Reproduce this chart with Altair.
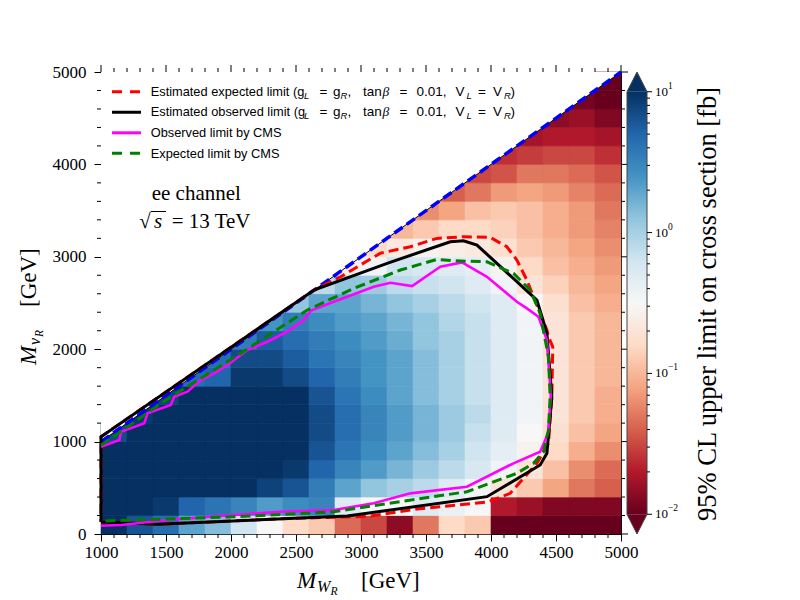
import altair as alt
import numpy as np
import pandas as pd

SERIF = "Liberation Serif"
SANS = "Liberation Sans"

# ---------------------------------------------------------------------------
# Limit map: bin centres (GeV) and log10 of the 95% CL limit [fb]
# ---------------------------------------------------------------------------
MW_BINS = [1100, 1300, 1500, 1700, 1900, 2100, 2300, 2500, 2700, 2900,
           3100, 3300, 3500, 3700, 3900, 4100, 4300, 4500, 4700, 4900]
MN_BINS = [100, 300, 500, 700, 900, 1100, 1300, 1500, 1700, 1900,
           2100, 2300, 2500, 2700, 2900, 3100, 3300, 3500, 3700, 3900,
           4100, 4300, 4500, 4700, 4900]
HALF_BIN = 100

_ = None  # bin lies entirely in the forbidden region M_nu > M_W
LOG10_LIMIT = [
    [1.0, 0.8, 0.65, 0.3, 0.15, -0.2, -0.5, -0.8, -0.9, -1.35, -1.5, -1.85, -1.3, -0.8, -0.9, -2.0, -2.0, -2.0, -2.0, -2.0],
    [1.0, 1.0, 0.95, 0.7, 0.6, 0.5, 0.35, 0.45, 0.5, -0.3, -0.5, -0.5, -0.3, -0.4, -0.5, -1.7, -1.8, -1.9, -1.9, -1.9],
    [1.0, 1.0, 1.0, 1.0, 1.0, 1.0, 0.9, 0.8, 0.55, 0.3, 0.1, 0.0, -0.1, -0.3, -0.45, -0.7, -0.9, -1.1, -1.3, -1.4],
    [1.0, 1.0, 1.0, 1.0, 1.0, 1.0, 1.0, 0.95, 0.7, 0.5, 0.35, 0.2, 0.05, -0.1, -0.25, -0.45, -0.7, -0.95, -1.2, -1.35],
    [1.0, 1.0, 1.0, 1.0, 1.0, 1.0, 1.0, 1.0, 0.8, 0.6, 0.45, 0.3, 0.15, 0.0, -0.2, -0.35, -0.55, -0.8, -1.05, -1.2],
    [0.85, 1.0, 1.0, 1.0, 1.0, 1.0, 1.0, 1.0, 0.85, 0.65, 0.5, 0.35, 0.2, 0.05, -0.15, -0.3, -0.5, -0.75, -0.95, -1.1],
    [_, 0.95, 1.0, 1.0, 1.0, 1.0, 1.0, 1.0, 0.85, 0.65, 0.5, 0.35, 0.2, 0.05, -0.1, -0.3, -0.45, -0.7, -0.9, -1.05],
    [_, _, 0.9, 1.0, 1.0, 1.0, 1.0, 1.0, 0.8, 0.6, 0.45, 0.3, 0.15, 0.0, -0.15, -0.3, -0.45, -0.7, -0.9, -1.05],
    [_, _, _, 0.65, 0.7, 0.95, 0.95, 0.85, 0.7, 0.55, 0.4, 0.3, 0.15, 0.0, -0.15, -0.3, -0.45, -0.7, -0.9, -1.0],
    [_, _, _, _, 0.65, 0.85, 0.85, 0.75, 0.6, 0.5, 0.4, 0.3, 0.15, 0.0, -0.15, -0.3, -0.45, -0.7, -0.9, -1.0],
    [_] * 5 + [0.55, 0.75, 0.65, 0.55, 0.45, 0.35, 0.25, 0.1, 0.0, -0.15, -0.3, -0.45, -0.7, -0.9, -1.0],
    [_] * 6 + [0.4, 0.55, 0.45, 0.35, 0.3, 0.2, 0.1, -0.05, -0.15, -0.3, -0.45, -0.7, -0.9, -1.0],
    [_] * 7 + [0.1, 0.3, 0.3, 0.2, 0.1, 0.0, -0.1, -0.2, -0.3, -0.5, -0.75, -0.95, -1.05],
    [_] * 8 + [-0.1, 0.1, 0.05, -0.1, -0.15, -0.2, -0.3, -0.45, -0.7, -0.85, -1.0, -1.1],
    [_] * 9 + [-0.6, -0.45, -0.2, -0.25, -0.3, -0.35, -0.55, -0.8, -0.95, -1.05, -1.15],
    [_] * 10 + [-0.8, -0.65, -0.55, -0.6, -0.65, -0.75, -0.9, -1.0, -1.1, -1.2],
    [_] * 11 + [-1.0, -0.9, -0.8, -0.8, -0.85, -0.95, -1.05, -1.15, -1.25],
    [_] * 12 + [-1.2, -1.1, -0.95, -0.9, -0.95, -1.05, -1.15, -1.3],
    [_] * 13 + [-1.4, -1.3, -1.15, -1.1, -1.15, -1.25, -1.35],
    [_] * 14 + [-1.5, -1.45, -1.3, -1.3, -1.35, -1.45],
    [_] * 15 + [-1.6, -1.55, -1.5, -1.5, -1.6],
    [_] * 16 + [-1.75, -1.7, -1.7, -1.75],
    [_] * 17 + [-1.85, -1.8, -1.9],
    [_] * 18 + [-1.95, -2.0],
    [_] * 19 + [-2.0],
]

# ---------------------------------------------------------------------------
# Exclusion contours (M_WR, M_nuR) in GeV
# ---------------------------------------------------------------------------
EXP_MW = [1000, 1435, 2433, 3047, 3431, 3969, 4148, 4353, 4442, 4468, 4475, 4442,
          4430, 4327, 4276, 4199, 4122, 3994, 3790, 3584, 3380, 3150, 2843, 2638,
          1000, 1000]
EXP_MN = [130, 105, 168, 190, 270, 345, 440, 765, 981, 1486, 2026, 2135,
          2207, 2568, 2748, 2965, 3109, 3210, 3217, 3199, 3109, 3040, 2784, 2640,
          1053, 130]

OBS_MW = [1000, 1435, 2894, 3969, 4378, 4430, 4468, 4430, 4353, 3892, 3789, 3687,
          3201, 2638, 1000, 1000]
OBS_MN = [130, 105, 195, 404, 747, 873, 1486, 2172, 2532, 3127, 3174, 3163,
          2929, 2640, 1053, 130]

CMS_OBS_MW = [1000, 1141, 1154, 1333, 1358, 1537, 1563, 1665, 1768, 1870, 1973,
              2126, 2280, 2433, 2561, 2612, 2791, 3098, 3227, 3393, 3610, 3777,
              3969, 4199, 4276, 4365, 4430, 4460, 4440, 4417, 4378, 4173, 3815,
              3380, 3098, 2791, 2382, 2023, 1512, 1154, 1000]
CMS_OBS_MN = [945, 1017, 1107, 1198, 1306, 1396, 1486, 1540, 1666, 1739, 1829,
              1991, 2081, 2189, 2315, 2415, 2514, 2676, 2719, 2683, 2892, 2939,
              2784, 2513, 2442, 2351, 2100, 1500, 1100, 1017, 891, 765, 512,
              440, 332, 260, 241, 205, 151, 97, 90]

CMS_EXP_MW = [1000, 1500, 2075, 2331, 2587, 2945, 3303, 3585, 3713, 3969, 4173,
              4302, 4378, 4442, 4455, 4442, 4404, 4327, 4199, 3815, 3303, 2791,
              2023, 1256, 1000]
CMS_EXP_MN = [960, 1450, 1955, 2190, 2424, 2658, 2857, 2972, 2957, 2946, 2821,
              2640, 2388, 1918, 1486, 1125, 891, 765, 657, 458, 350, 241,
              187, 151, 140]

DIAG_MW = [1000, 5000]
DIAG_MN = [1000, 5000]

# ---------------------------------------------------------------------------
# Geometry / styling
# ---------------------------------------------------------------------------
OX, OY = 101, 72          # plot-area corner inside the 800x600 canvas
W, H = 520, 462

XS = alt.Scale(domain=[1000, 5000], nice=False, zero=False)
YS = alt.Scale(domain=[0, 5000], nice=False, zero=False)
AX_COMMON = dict(title=None, grid=False, tickSize=7, tickColor="black", tickWidth=1,
                 domainColor="black", labelColor="black", labelFont=SERIF,
                 labelFontSize=17, format="d", labelFlush=False)
XA = alt.Axis(values=list(range(1000, 5001, 500)), labelPadding=3, **AX_COMMON)
YA = alt.Axis(values=list(range(0, 5001, 1000)), labelPadding=8, **AX_COMMON)

# RdBu colour map spread evenly over log10(sigma) in [-2, 1]
RDBU = ["#67001f", "#b2182b", "#d6604d", "#f4a582", "#fddbc7", "#f7f7f7",
        "#d1e5f0", "#92c5de", "#4393c3", "#2166ac", "#053061"]
CMAP_LO, CMAP_HI = -2.0, 1.0
CMAP_STOPS = [CMAP_LO + (CMAP_HI - CMAP_LO) * k / (len(RDBU) - 1) for k in range(len(RDBU))]
CS = alt.Scale(domain=CMAP_STOPS, range=RDBU, interpolate="rgb", clamp=True)

ONE = pd.DataFrame({"k": [0]})


def X(field):
    return alt.X(f"{field}:Q", scale=XS, axis=XA)


def Y(field):
    return alt.Y(f"{field}:Q", scale=YS, axis=YA)


def path(mw, mn):
    return pd.DataFrame({"mw": mw, "mn": mn, "k": list(range(len(mw)))})


def curve(mw, mn, color, width, dash=None):
    kw = dict(color=color, strokeWidth=width)
    if dash:
        kw["strokeDash"] = dash
    return alt.Chart(path(mw, mn)).mark_line(**kw).encode(
        x=X("mw"), y=Y("mn"), order="k:Q")


def label(text, x, y, size, font=SERIF, style="normal", angle=0,
          align="left", baseline="alphabetic"):
    return alt.Chart(ONE).mark_text(
        text=text, font=font, fontSize=size, fontStyle=style, angle=angle,
        align=align, baseline=baseline, color="black",
    ).encode(x=alt.value(x - OX), y=alt.value(y - OY))


def seg(x0, y0, x1, y1, color="black", width=1.0, dash=None):
    kw = dict(color=color, strokeWidth=width)
    if dash:
        kw["strokeDash"] = dash
    return alt.Chart(ONE).mark_rule(**kw).encode(
        x=alt.value(x0 - OX), y=alt.value(y0 - OY),
        x2=alt.value(x1 - OX), y2=alt.value(y1 - OY))


def xticks(vals, y0, y1):
    return alt.Chart(pd.DataFrame({"v": vals})).mark_rule(color="black").encode(
        x=X("v"), y=alt.value(y0), y2=alt.value(y1))


def yticks(vals, x0, x1):
    return alt.Chart(pd.DataFrame({"v": vals})).mark_rule(color="black").encode(
        y=Y("v"), x=alt.value(x0), x2=alt.value(x1))


# ---------------------------------------------------------------------------
# Main panel
# ---------------------------------------------------------------------------
rows = []
for mn, row in zip(MN_BINS, LOG10_LIMIT):
    for mw, v in zip(MW_BINS, row):
        if v is None:
            continue
        rows.append({"x0": mw - HALF_BIN, "x1": mw + HALF_BIN,
                     "y0": mn - HALF_BIN, "y1": mn + HALF_BIN, "logsig": v})
cells = pd.DataFrame(rows)

heat = alt.Chart(cells).mark_rect(strokeWidth=0.6).encode(
    x=X("x0"), x2="x1:Q", y=Y("y0"), y2="y1:Q",
    color=alt.Color("logsig:Q", scale=CS, legend=None),
    stroke=alt.Stroke("logsig:Q", scale=CS, legend=None),
)

# region above the kinematic boundary stays blank
forbidden = alt.Chart(path(DIAG_MW, DIAG_MN)).mark_area(color="white").encode(
    x=X("mw"), y=Y("mn"), y2=alt.datum(5000))

diag_thin = curve(DIAG_MW, DIAG_MN, "black", 1)
diag_blue = curve(DIAG_MW, DIAG_MN, "#0000ff", 3.5, [10, 5])

exp_line = curve(EXP_MW, EXP_MN, "#ff0000", 3, [10, 5])
obs_line = curve(OBS_MW, OBS_MN, "black", 3)
cms_obs = curve(CMS_OBS_MW, CMS_OBS_MN, "#ff00ff", 2.6)
cms_exp = curve(CMS_EXP_MW, CMS_EXP_MN, "#008000", 3, [10, 5])

MAJOR_X = list(range(1000, 5001, 500))
MINOR_X = [v for v in range(1000, 5001, 100) if v % 500]
MAJOR_Y = list(range(0, 5001, 1000))
MINOR_Y = [v for v in range(0, 5001, 200) if v % 1000]

ticks = [
    xticks(MINOR_X, H, H + 4),
    xticks(MAJOR_X, 0, -7),
    xticks(MINOR_X, 0, -4),
    yticks(MINOR_Y, 0, -4),
    yticks(MAJOR_Y, W, W + 7),
    yticks(MINOR_Y, W, W + 4),
]

# legend (inside the plot, top-left)
legend_rows = [
    ("#ff0000", [10, 8]),
    ("black", None),
    ("#ff00ff", None),
    ("#008000", [10, 8]),
]
legend_layers = []
for n, (col, dash) in enumerate(legend_rows):
    ly = 91.7 + 20.55 * n
    legend_layers.append(seg(112, ly, 141, ly, col, 3, dash))

MATH_TAIL = [  # (text, x, kind) kind: n = normal, s = subscript, i = italic
    ("L", 304.0, "s"), ("=", 319.5, "n"), ("g", 333.0, "n"), ("R", 340.5, "s"),
    (",", 347.5, "n"), ("tan", 363.0, "n"), ("β", 382.5, "i"), ("=", 399.5, "n"),
    ("0.01,", 416.5, "n"), ("V", 455.5, "n"), ("L", 466.5, "s"), ("=", 478.0, "n"),
    ("V", 493.0, "n"), ("R", 504.0, "s"), (")", 510.5, "n"),
]
LEG_SIZE = 12.8
for n, head in enumerate(["Estimated expected limit (g", "Estimated observed limit (g"]):
    base = 91.7 + 20.55 * n + 4.2
    legend_layers.append(label(head, 150.7, base, LEG_SIZE, font=SANS))
    for txt, x, kind in MATH_TAIL:
        if kind == "s":
            legend_layers.append(label(txt, x, base + 3, 9.5, font=SANS, style="italic"))
        elif kind == "i":
            legend_layers.append(label(txt, x, base, 13.5, font=SERIF, style="italic"))
        else:
            legend_layers.append(label(txt, x, base, 13.5, font=SANS))
for n, txt in [(2, "Observed limit by CMS"), (3, "Expected limit by CMS")]:
    legend_layers.append(label(txt, 150.7, 91.7 + 20.55 * n + 4.2, LEG_SIZE, font=SANS))

annotations = [
    label("ee channel", 151.7, 200, 21),
    label("√", 139.3, 228.3, 21),
    label("s", 154.0, 228.3, 21, style="italic"),
    seg(151, 211.5, 166, 211.5, "black", 1),
    label("= 13 TeV", 171.7, 228.3, 21),
]

# axis titles with subscripts
axis_titles = [
    label("M", 297, 588, 23, style="italic"),
    label("W", 317, 592, 16, style="italic"),
    label("R", 330.5, 595, 11.5, style="italic"),
    label("[GeV]", 361, 588, 23),
    label("M", 36, 365, 23, style="italic", angle=270),
    label("ν", 40, 345, 16, style="italic", angle=270),
    label("R", 43, 337, 11.5, style="italic", angle=270),
    label("[GeV]", 36, 307, 23, angle=270),
]

main = alt.layer(
    heat, forbidden, diag_thin, diag_blue,
    exp_line, obs_line, cms_obs, cms_exp,
    *ticks, *legend_layers, *annotations, *axis_titles,
)

# ---------------------------------------------------------------------------
# Colour bar (log10 units, with extension triangles)
# ---------------------------------------------------------------------------
CB_LO, CB_HI, CB_EXT = CMAP_LO, CMAP_HI, 0.14
CBY = alt.Scale(domain=[CB_LO - CB_EXT, CB_HI + CB_EXT], nice=False, zero=False)
CB_X0, CB_X1 = 526, 546
CBX = alt.Scale(domain=[0, 1], range=[CB_X0, CB_X1], nice=False, zero=False)

gradient = alt.Gradient(
    gradient="linear",
    stops=[alt.GradientStop(color=c, offset=k / (len(RDBU) - 1)) for k, c in enumerate(RDBU)],
    x1=0, x2=0, y1=1, y2=0,
)
cb_rect = alt.Chart(pd.DataFrame({"lo": [CB_LO], "hi": [CB_HI]})).mark_rect(color=gradient).encode(
    x=alt.value(CB_X0), x2=alt.value(CB_X1),
    y=alt.Y("lo:Q", scale=CBY, axis=None), y2="hi:Q")


def cb_triangle(edge, tip, color):
    df = pd.DataFrame({"u": [0, 0.5, 1], "v": [edge, tip, edge]})
    return alt.Chart(df).mark_area(color=color).encode(
        x=alt.X("u:Q", scale=CBX, axis=None),
        y=alt.Y("v:Q", scale=CBY, axis=None), y2=alt.datum(edge))


cb_top = cb_triangle(CB_HI, CB_HI + CB_EXT, RDBU[-1])
cb_bot = cb_triangle(CB_LO, CB_LO - CB_EXT, RDBU[0])

outline = pd.DataFrame({
    "u": [0, 0.5, 1, 1, 0.5, 0, 0],
    "v": [CB_LO, CB_LO - CB_EXT, CB_LO, CB_HI, CB_HI + CB_EXT, CB_HI, CB_LO],
    "k": list(range(7)),
})
cb_outline = alt.Chart(outline).mark_line(color="#444444", strokeWidth=1).encode(
    x=alt.X("u:Q", scale=CBX, axis=None),
    y=alt.Y("v:Q", scale=CBY, axis=None), order="k:Q")

DECADES = [-2, -1, 0, 1]
MINOR_CB = [float(np.log10(k * 10.0 ** e)) for e in (-2, -1, 0) for k in range(2, 10)]

cb_major = alt.Chart(pd.DataFrame({"v": DECADES})).mark_rule(color="black").encode(
    y=alt.Y("v:Q", scale=CBY, axis=None), x=alt.value(CB_X1), x2=alt.value(CB_X1 + 5))
cb_minor = alt.Chart(pd.DataFrame({"v": MINOR_CB})).mark_rule(color="black").encode(
    y=alt.Y("v:Q", scale=CBY, axis=None), x=alt.value(CB_X1), x2=alt.value(CB_X1 + 3))

dec_df = pd.DataFrame({"v": DECADES, "e": [str(d).replace("-", "\u2212") for d in DECADES]})
cb_ten = alt.Chart(dec_df).mark_text(
    text="10", font=SERIF, fontSize=13, align="left", baseline="middle", color="black",
).encode(y=alt.Y("v:Q", scale=CBY, axis=None), x=alt.value(CB_X1 + 8))
cb_exp = alt.Chart(dec_df).mark_text(
    font=SERIF, fontSize=9.5, align="left", baseline="middle", dy=-6, color="black",
).encode(y=alt.Y("v:Q", scale=CBY, axis=None), x=alt.value(CB_X1 + 21), text="e:N")

cb_title = label("95% CL upper limit on cross section [fb]", 716, 304, 26.5,
                 angle=270, align="center")

cbar = alt.layer(cb_rect, cb_top, cb_bot, cb_outline, cb_major, cb_minor,
                 cb_ten, cb_exp, cb_title)

chart = (
    alt.layer(main, cbar)
    .resolve_scale(x="independent", y="independent")
    .properties(
        width=W, height=H,
        padding={"left": OX, "top": OY, "right": 800 - OX - W, "bottom": 600 - OY - H},
        autosize=alt.AutoSizeParams(type="none"),
        background="white",
    )
    .configure_view(stroke="black", strokeWidth=1)
)

chart.save("out.html", embed_options={"renderer": "svg", "actions": False})
